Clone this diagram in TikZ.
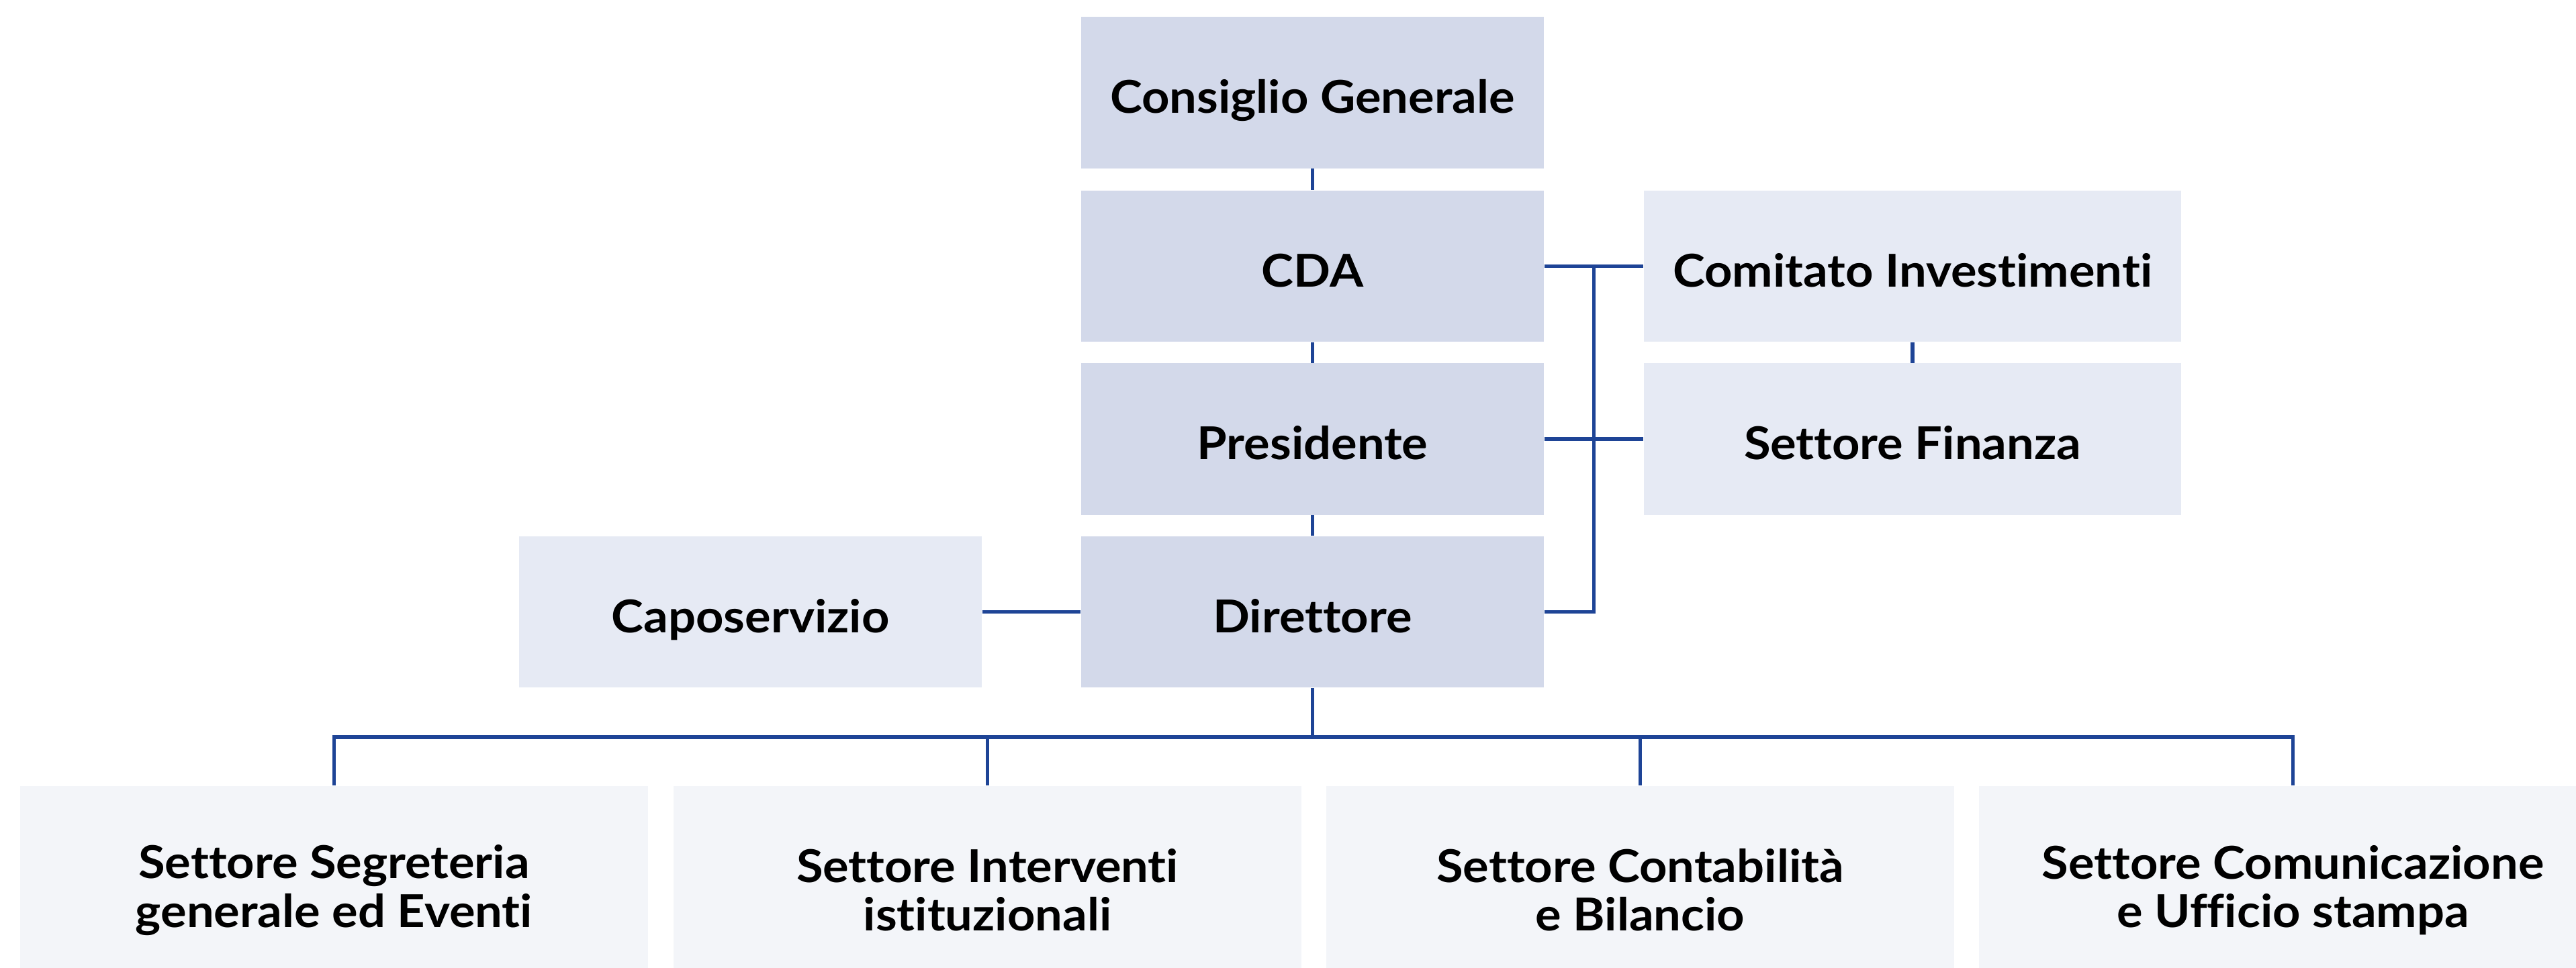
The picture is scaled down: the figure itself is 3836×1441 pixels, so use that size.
\documentclass[tikz,border=0pt]{standalone}
\usepackage{fontspec}
\setmainfont{Lato}[FakeStretch=1.07, Ligatures=NoCommon]
\definecolor{boxmain}{HTML}{D3D9EA}
\definecolor{boxside}{HTML}{E6EAF4}
\definecolor{boxlow}{HTML}{F3F5F9}
\definecolor{linkblue}{HTML}{1E4496}
\tikzset{
  orgtext/.style={font=\fontsize{19.2}{20.5}\selectfont\bfseries, text=black, inner sep=0pt, align=center},
  onetext/.style={orgtext, text height=0.615cm, text depth=0pt},
  mainbox/.style={onetext, fill=boxmain, minimum width=6.89cm, minimum height=2.25cm},
  sidebox/.style={onetext, fill=boxside, minimum height=2.25cm},
  lowbox/.style={orgtext, fill=boxlow, minimum width=9.35cm, minimum height=3.1cm},
  link/.style={draw=linkblue, line width=1.45pt}
}
\begin{document}
\begin{tikzpicture}[x=0.01cm, y=-0.01cm]
\useasboundingbox (0,0) rectangle (3836,1441);
\fill[white] (0,0) rectangle (3836,1441);
% central column
\node[mainbox] (cg)   at (1954.5,138)   {Consiglio Generale};
\node[mainbox] (cda)  at (1954.5,396.5) {CDA};
\node[mainbox] (pres) at (1954.5,654)   {Presidente};
\node[mainbox] (dir)  at (1954.5,911.5) {Direttore};
% side boxes
\node[sidebox, minimum width=8.0cm] (ci) at (2848,396.5) {Comitato Investimenti};
\node[sidebox, minimum width=8.0cm] (sf) at (2848,654)   {Settore Finanza};
\node[sidebox, minimum width=6.89cm] (capo) at (1117.5,911.5) {Caposervizio};
% bottom boxes
\node[lowbox] (b1) at (497.5,1326)  {Settore Segreteria\\generale ed Eventi};
\node[lowbox] (b2) at (1470.5,1326) {Settore Interventi\\istituzionali};
\node[lowbox] (b3) at (2442.5,1326) {Settore Contabilità\\e Bilancio};
\node[lowbox] (b4) at (3414.5,1326) {Settore Comunicazione\\e Ufficio stampa};
% helper coordinates
\coordinate (br) at (2373.5,0);
\coordinate (bus) at (0,1098);
% connectors
\draw[link] (cg.south) -- (cda.north);
\draw[link] (cda.south) -- (pres.north);
\draw[link] (pres.south) -- (dir.north);
\draw[link] (cda.east) -- (ci.west);
\draw[link] (pres.east) -- (sf.west);
\draw[link] (ci.south) -- (sf.north);
\draw[link] (dir.east) -- (dir.east -| br) -- (cda.east -| br);
\draw[link] (capo.east) -- (dir.west);
\draw[link] (dir.south) -- (dir.south |- bus);
\draw[link, line cap=rect] (b1.north |- bus) -- (b4.north |- bus);
\draw[link] (b1.north |- bus) -- (b1.north);
\draw[link] (b2.north |- bus) -- (b2.north);
\draw[link] (b3.north |- bus) -- (b3.north);
\draw[link] (b4.north |- bus) -- (b4.north);
\end{tikzpicture}
\end{document}
